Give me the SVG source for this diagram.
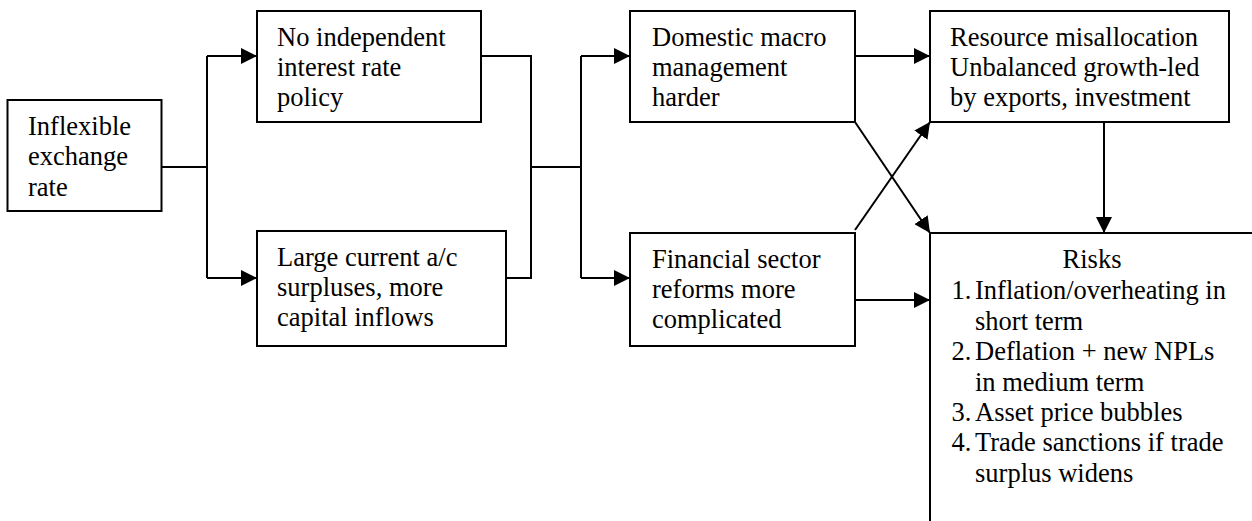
<svg xmlns="http://www.w3.org/2000/svg" width="1252" height="521" viewBox="0 0 1252 521">
<style>
  .box { fill: #ffffff; stroke: #000000; stroke-width: 2; }
  .t { font-family: "Liberation Serif", "Times New Roman", serif; font-size: 26.5px; fill: #000000; }
  .c { fill: none; stroke: #000000; stroke-width: 2; }
</style>
<defs>
  <marker id="ah" markerUnits="userSpaceOnUse" markerWidth="16" markerHeight="16" refX="16" refY="8" orient="auto">
    <path d="M0,0 L16,8 L0,16 Z" fill="#000000"/>
  </marker>
</defs>
<rect width="1252" height="521" fill="#ffffff"/>

<g id="connectors">
  <path class="c" d="M157,167 H207"/>
  <path class="c" d="M207,56 V278"/>
  <path class="c" d="M207,56 H257" marker-end="url(#ah)"/>
  <path class="c" d="M207,278 H257" marker-end="url(#ah)"/>
  <path class="c" d="M481,56 H531 V278 H506"/>
  <path class="c" d="M531,167 H581"/>
  <path class="c" d="M581,56 V278"/>
  <path class="c" d="M581,56 H630" marker-end="url(#ah)"/>
  <path class="c" d="M581,278 H630" marker-end="url(#ah)"/>
  <path class="c" d="M855,56 H930" marker-end="url(#ah)"/>
  <path class="c" d="M1104,122 V233" marker-end="url(#ah)"/>
  <path class="c" d="M855,122 L930,233" marker-end="url(#ah)"/>
  <path class="c" d="M855,230 L930,122" marker-end="url(#ah)"/>
  <path class="c" d="M855,300 H930" marker-end="url(#ah)"/>
</g>

<g id="inflexible">
  <rect class="box" x="7.5" y="100" width="154" height="111"/>
  <text class="t" x="28" y="134.5">Inflexible</text>
  <text class="t" x="28" y="165">exchange</text>
  <text class="t" x="28" y="195.5">rate</text>
</g>

<g id="no-interest-policy">
  <rect class="box" x="257" y="11" width="224" height="111"/>
  <text class="t" x="277" y="45.7">No independent</text>
  <text class="t" x="277" y="76">interest rate</text>
  <text class="t" x="277" y="106">policy</text>
</g>

<g id="current-account">
  <rect class="box" x="257" y="231" width="249" height="115"/>
  <text class="t" x="277" y="265.7">Large current a/c</text>
  <text class="t" x="277" y="296">surpluses, more</text>
  <text class="t" x="277" y="326">capital inflows</text>
</g>

<g id="macro-management">
  <rect class="box" x="630" y="11" width="225" height="111"/>
  <text class="t" x="652" y="45.7">Domestic macro</text>
  <text class="t" x="652" y="76">management</text>
  <text class="t" x="652" y="106">harder</text>
</g>

<g id="financial-reforms">
  <rect class="box" x="630" y="233" width="225" height="113"/>
  <text class="t" x="652" y="267.5">Financial sector</text>
  <text class="t" x="652" y="298">reforms more</text>
  <text class="t" x="652" y="328">complicated</text>
</g>

<g id="resource-misallocation">
  <rect class="box" x="930" y="11" width="299" height="111"/>
  <text class="t" x="950" y="45.7">Resource misallocation</text>
  <text class="t" x="950" y="76">Unbalanced growth-led</text>
  <text class="t" x="950" y="106">by exports, investment</text>
</g>

<g id="risks">
  <rect class="box" x="930" y="233" width="400" height="400"/>
  <text class="t" x="1092" y="268" text-anchor="middle">Risks</text>
  <text class="t" x="951.5" y="299">1.</text>
  <text class="t" x="975" y="299">Inflation/overheating in</text>
  <text class="t" x="975" y="330">short term</text>
  <text class="t" x="951.5" y="360">2.</text>
  <text class="t" x="975" y="360">Deflation + new NPLs</text>
  <text class="t" x="975" y="391">in medium term</text>
  <text class="t" x="951.5" y="421">3.</text>
  <text class="t" x="975" y="421">Asset price bubbles</text>
  <text class="t" x="951.5" y="451">4.</text>
  <text class="t" x="975" y="451">Trade sanctions if trade</text>
  <text class="t" x="975" y="481.5">surplus widens</text>
</g>
</svg>
